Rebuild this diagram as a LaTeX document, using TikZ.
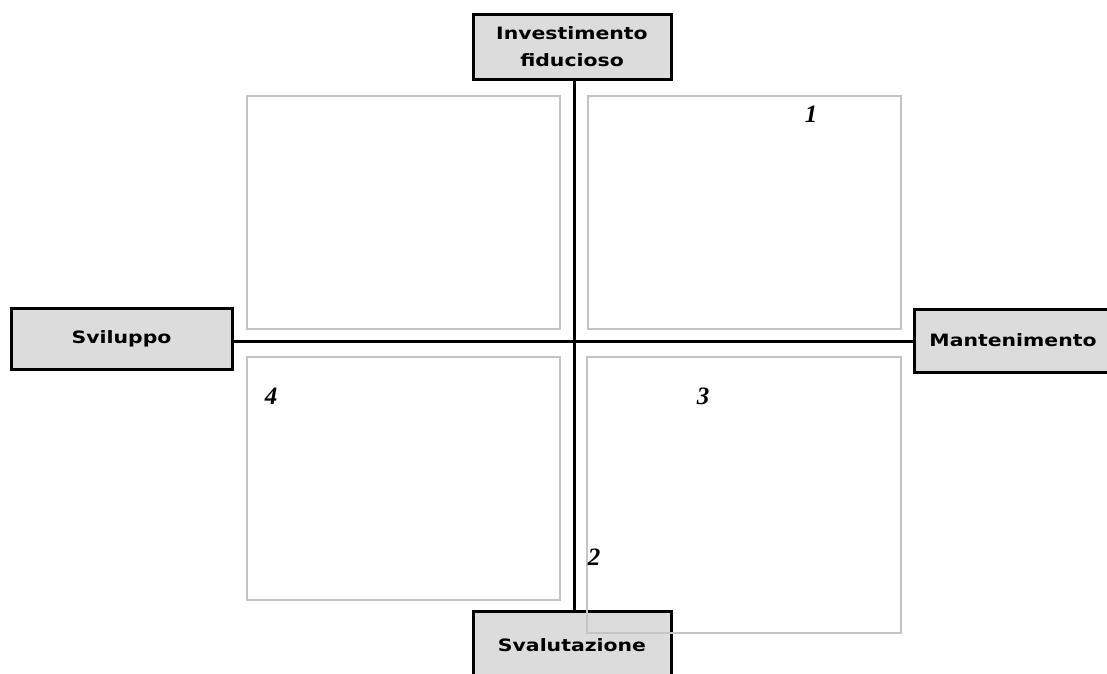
\documentclass[tikz,border=0pt]{standalone}
\usepackage{fontspec}
\setmainfont{DejaVu Sans}
\newfontfamily\boxfont[FakeStretch=1.2]{DejaVu Sans Bold}
\newfontfamily\numfont{Liberation Serif}
\begin{document}
\begin{tikzpicture}[x=1pt,y=-1pt,
  axisbox/.style={draw=black,line width=3pt,fill=boxgray,font=\boxfont\fontsize{17}{27}\selectfont,align=center,inner sep=0pt,minimum width=198pt},
  quad/.style={draw=quadgray,line width=1.5pt},
  axis/.style={draw=black,line width=3pt},
  num/.style={font=\numfont\bfseries\itshape\fontsize{25}{25}\selectfont,inner sep=0pt}]
\definecolor{boxgray}{HTML}{DCDCDC}
\definecolor{quadgray}{HTML}{C4C4C4}
\clip (0,0) rectangle (1107,673);
\fill[white] (0,0) rectangle (1107,673);
% quadrant rectangles
\draw[quad] (247,96) rectangle (560,329);
\draw[quad] (588,96) rectangle (901,329);
\draw[quad] (247,357) rectangle (560,600);
% axes
\coordinate (c) at (574,341);
\node[axisbox,minimum height=65pt] (top) at (572,47) {Investimento\\fiducioso};
\node[axisbox,minimum height=68pt] (bot) at (572,645) {Svalutazione};
\node[axisbox,minimum height=61pt,minimum width=221pt] (left) at (121.5,338.5) {Sviluppo};
\node[axisbox,minimum height=63pt] (right) at (1013,340.5) {Mantenimento};
\draw[axis] (top.south -| c) -- (bot.north -| c);
\draw[axis] (left.east |- c) -- (right.west |- c);
\draw[quad] (587,357) rectangle (901,633);
% numbers
\node[num] (n1) at (811,114) {1};
\node[num] (n2) at (594,557) {2};
\node[num] (n3) at (703,396) {3};
\node[num] (n4) at (271,396) {4};
\end{tikzpicture}
\end{document}
